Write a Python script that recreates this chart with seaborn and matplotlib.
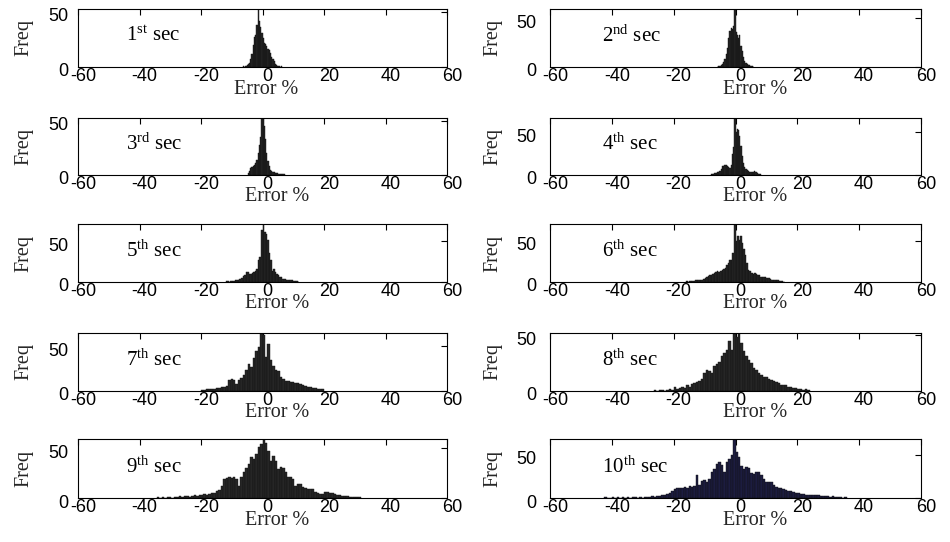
import numpy as np
import pandas as pd
import matplotlib
matplotlib.use("Agg")
import matplotlib.pyplot as plt
import matplotlib.transforms as mtransforms
import seaborn as sns

# Histogram counts of the prediction error (%) for each second ahead.
# Each series: left edge of the first bin, bin width, counts per bin.
sec1_start, sec1_width = -6.4, 0.4
sec1_counts = [1, 0, 1, 2, 3, 4, 7, 12, 20, 27, 29, 38, 53, 42, 36, 31,
               26, 22, 21, 19, 16, 15, 13, 9, 7, 5, 3, 2, 1, 1, 0, 1]

sec2_start, sec2_width = -6.0, 0.4
sec2_counts = [0, 1, 1, 2, 3, 5, 8, 13, 20, 30, 37, 40, 39, 42, 60,
               36, 33, 30, 33, 22, 16, 10, 6, 4, 3, 2, 2, 1, 1, 0]

sec3_start, sec3_width = -4.8, 0.4
sec3_counts = [2, 4, 6, 7, 8, 9, 11, 14, 20, 28, 35, 53, 52, 45, 33,
               20, 13, 8, 5, 4, 3, 3, 2, 2, 2, 1, 1, 1, 1, 1]

sec4_start, sec4_width = -8.0, 0.4
sec4_counts = [1, 1, 1, 2, 2, 3, 4, 5, 7, 10, 11, 12, 12, 11, 9, 8, 12,
               24, 33, 67, 50, 54, 53, 46, 34, 22, 14, 9, 7, 6, 5, 4, 3,
               3, 4, 5, 3, 2, 1, 1, 1]

sec5_start, sec5_width = -12.0, 0.5
sec5_counts = [1, 1, 0, 1, 1, 1, 2, 2, 3, 4, 5, 7, 9, 12, 12, 10, 10, 11,
               12, 14, 16, 27, 31, 64, 71, 61, 59, 51, 35, 27, 14, 16, 12,
               10, 8, 6, 6, 4, 4, 3, 3, 2, 2, 2, 1, 1, 1, 0]

sec6_start, sec6_width = -16.0, 0.5
sec6_counts = [1, 0, 1, 1, 1, 1, 2, 2, 2, 3, 3, 4, 5, 6, 7, 8, 9, 10, 11,
               12, 13, 12, 13, 14, 16, 17, 20, 23, 26, 27, 35, 70, 49, 55,
               51, 55, 47, 40, 33, 23, 15, 13, 11, 10, 11, 10, 9, 8, 6, 6,
               6, 6, 5, 5, 4, 3, 3, 2, 2, 2, 1, 1, 1, 0]

sec7_start, sec7_width = -20.0, 0.8
sec7_counts = [1, 1, 2, 2, 2, 2, 3, 3, 4, 5, 6, 12, 13, 12, 8, 12, 15, 18,
               23, 30, 27, 37, 45, 49, 65, 63, 38, 53, 35, 28, 24, 22, 16,
               13, 11, 11, 10, 10, 9, 9, 8, 7, 6, 5, 4, 3, 3, 2, 2, 2]

sec8_start, sec8_width = -26.4, 0.8
sec8_counts = [1, 0, 1, 1, 0, 1, 2, 1, 4, 2, 3, 4, 3, 5, 4, 6, 7, 8, 9,
               11, 16, 19, 18, 16, 22, 24, 26, 31, 34, 37, 45, 37, 52, 48,
               52, 43, 36, 31, 28, 25, 21, 19, 16, 14, 13, 13, 11, 10, 9,
               8, 7, 5, 5, 5, 4, 4, 3, 3, 2, 2, 1, 2, 1]

sec9_start, sec9_width = -34.4, 0.8
sec9_counts = [1, 0, 1, 0, 1, 1, 0, 1, 1, 2, 1, 2, 2, 1, 2, 3, 2, 3, 3,
               4, 3, 4, 5, 5, 7, 8, 12, 19, 20, 21, 20, 21, 19, 12, 21, 26,
               30, 34, 41, 39, 44, 51, 54, 59, 55, 47, 37, 42, 37, 29, 31,
               30, 26, 21, 21, 19, 12, 14, 14, 11, 10, 9, 9, 9, 6, 5, 4, 4,
               6, 6, 5, 5, 4, 3, 3, 2, 2, 2, 1, 1, 1, 1, 1]

sec10_start, sec10_width = -42.4, 0.8
sec10_counts = [1, 0, 0, 1, 0, 1, 0, 1, 0, 1, 0, 1, 1, 0, 1, 0, 1, 1, 1,
                2, 1, 2, 2, 3, 4, 5, 6, 8, 10, 11, 12, 12, 13, 12, 14, 13,
                14, 26, 15, 20, 21, 18, 22, 30, 33, 39, 41, 38, 30, 41, 45,
                49, 68, 53, 47, 37, 33, 36, 35, 29, 28, 30, 30, 27, 22, 19,
                18, 18, 15, 13, 12, 11, 10, 9, 8, 8, 7, 6, 6, 5, 5, 4, 4, 3,
                3, 3, 3, 2, 2, 2, 2, 1, 2, 1, 1, 1, 0, 1]

seconds = list(range(1, 11))
ordinal_suffix = ["st", "nd", "rd", "th", "th", "th", "th", "th", "th", "th"]
series = [
    (sec1_start, sec1_width, sec1_counts),
    (sec2_start, sec2_width, sec2_counts),
    (sec3_start, sec3_width, sec3_counts),
    (sec4_start, sec4_width, sec4_counts),
    (sec5_start, sec5_width, sec5_counts),
    (sec6_start, sec6_width, sec6_counts),
    (sec7_start, sec7_width, sec7_counts),
    (sec8_start, sec8_width, sec8_counts),
    (sec9_start, sec9_width, sec9_counts),
    (sec10_start, sec10_width, sec10_counts),
]
x_ticks = [-60, -40, -20, 0, 20, 40, 60]
y_ticks = [0, 50]
x_label = "Error %"
y_label = "Freq"

sns.set_theme(style="white")
plt.rcParams["font.family"] = ["Liberation Sans", "DejaVu Sans"]
plt.rcParams["mathtext.fontset"] = "custom"
plt.rcParams["mathtext.rm"] = "Liberation Serif"
plt.rcParams["mathtext.it"] = "Liberation Serif:italic"

W, H = 950, 542
fig = plt.figure(figsize=(W / 100, H / 100), dpi=100)
fig.patch.set_facecolor("white")

col_left = [78, 550]
col_right = [447, 921]
row_top = [8.5, 117.5, 224, 333, 439]
row_bottom = [67, 175, 282, 391, 498]

serif = ["Liberation Serif", "DejaVu Serif"]
xshift = mtransforms.ScaledTranslation(5 / 100, 0, fig.dpi_scale_trans)
yshift = mtransforms.ScaledTranslation(0, -3 / 100, fig.dpi_scale_trans)

for i, (sec, suffix, (start, width, counts)) in enumerate(
        zip(seconds, ordinal_suffix, series)):
    row, col = divmod(i, 2)
    x0, x1 = col_left[col], col_right[col]
    y0, y1 = row_top[row], row_bottom[row]
    ax = fig.add_axes([x0 / W, 1 - y1 / H, (x1 - x0) / W, (y1 - y0) / H])

    counts = np.asarray(counts, dtype=float)
    edges = start + width * np.arange(len(counts) + 1)
    centers = (edges[:-1] + edges[1:]) / 2
    df = pd.DataFrame({"error": centers, "freq": counts})

    face = "#1c1c40" if sec == 10 else "#262626"
    sns.histplot(data=df, x="error", weights="freq", bins=edges.tolist(),
                 ax=ax, color=face, edgecolor="#111111", linewidth=0.3,
                 alpha=1.0)

    ax.set_xlim(-60, 60)
    ax.set_ylim(0, counts.max())
    ax.set_xticks(x_ticks)
    ax.set_yticks(y_ticks)
    ax.set_xticklabels([str(t) for t in x_ticks])
    ax.set_yticklabels([str(t) for t in y_ticks])
    ax.tick_params(axis="both", which="both", direction="in", length=4,
                   width=0.8, top=True, right=True, labelsize=13,
                   colors="black")
    ax.tick_params(axis="x", pad=1)
    ax.tick_params(axis="y", pad=7 if col == 0 else 10)
    for lab in ax.get_xticklabels():
        lab.set_transform(lab.get_transform() + xshift)
    for lab in ax.get_yticklabels():
        lab.set_transform(lab.get_transform() + yshift)
    for sp in ax.spines.values():
        sp.set_visible(True)
        sp.set_color("black")
        sp.set_linewidth(0.8)

    ax.set_xlabel(x_label, fontsize=14.5, family=serif, labelpad=0)
    ax.set_ylabel(y_label, fontsize=14.5, family=serif, labelpad=0)
    lx = 0.51 if i == 0 else (0.54 if col == 0 else 0.553)
    ax.xaxis.set_label_coords(lx, -0.215)
    ax.yaxis.set_label_coords(-0.122 if col == 0 else -0.129, 0.5)

    ax.text(0.13 if col == 0 else 0.14, 0.53,
            f"{sec}$^{{\\mathrm{{{suffix}}}}}$ sec",
            transform=ax.transAxes, fontsize=15, family=serif,
            ha="left", va="center", color="black")

fig.savefig("out.png", dpi=100, facecolor="white")
